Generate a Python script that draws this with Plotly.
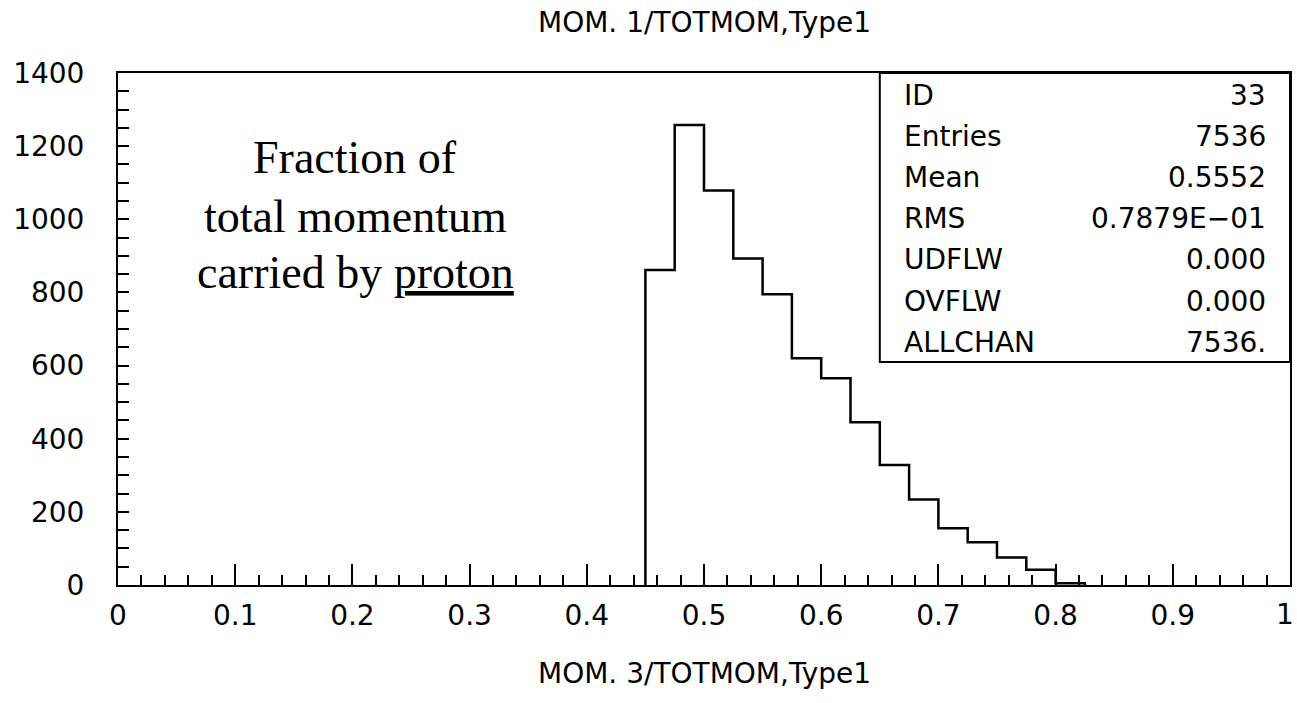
import plotly.graph_objects as go

# ---------------- data ----------------
bin_edges = [0.45, 0.475, 0.5, 0.525, 0.55, 0.575, 0.6, 0.625, 0.65, 0.675,
             0.7, 0.725, 0.75, 0.775, 0.8, 0.825]
counts = [861, 1258, 1079, 893, 795, 620, 565, 445, 328, 234, 155, 117, 75, 42, 5]

x_ticks = [0, 0.1, 0.2, 0.3, 0.4, 0.5, 0.6, 0.7, 0.8, 0.9, 1]
x_labels = ["0", "0.1", "0.2", "0.3", "0.4", "0.5", "0.6", "0.7", "0.8", "0.9", "1"]
y_ticks = [0, 200, 400, 600, 800, 1000, 1200, 1400]
y_labels = ["0", "200", "400", "600", "800", "1000", "1200", "1400"]

stat_names = ["ID", "Entries", "Mean", "RMS", "UDFLW", "OVFLW", "ALLCHAN"]
stat_values = ["33", "7536", "0.5552", "0.7879E\u221201", "0.000", "0.000", "7536."]

title_top = "MOM. 1/TOTMOM,Type1"
title_bottom = "MOM. 3/TOTMOM,Type1"
note_lines = ["Fraction of", "total momentum", "carried by <u>proton</u>"]

# ---------------- layout geometry ----------------
W, H = 1297, 703
L, R, T, B = 118, 7, 73, 118
PW, PH = W - L - R, H - T - B
YMAX = 1400


def ydata(py):
    return (T + PH - py) / PH * YMAX


def xdata(px):
    return (px - L) / PW


def ypaper(py):
    return (T + PH - py) / PH


FONT = "DejaVu Sans"
FS = 28

fig = go.Figure()
fig.add_trace(go.Scatter(
    x=[bin_edges[0]] + bin_edges,
    y=[0] + counts + [0],
    mode="lines",
    line=dict(shape="hv", color="black", width=2.5),
    hoverinfo="skip",
    showlegend=False,
))

# statistics box
fig.add_shape(type="rect", xref="x", yref="y",
              x0=bin_edges[8], x1=1, y0=ydata(362), y1=YMAX,
              line=dict(color="black", width=2), fillcolor="white", layer="above")

annotations = []
for i, (n, v) in enumerate(zip(stat_names, stat_values)):
    py = 95 + i * 41.2
    annotations.append(dict(x=xdata(902), y=ydata(py), xref="x", yref="y", text=n,
                            showarrow=False, xanchor="left", yanchor="middle",
                            font=dict(family=FONT, size=FS, color="black")))
    annotations.append(dict(x=xdata(1268), y=ydata(py), xref="x", yref="y", text=v,
                            showarrow=False, xanchor="right", yanchor="middle",
                            font=dict(family=FONT, size=FS, color="black")))

for line, py in zip(note_lines, [157, 216, 272]):
    annotations.append(dict(x=xdata(355), y=ydata(py), xref="x", yref="y", text=line,
                            showarrow=False, xanchor="center", yanchor="middle",
                            font=dict(family="Liberation Serif", size=46, color="black")))

annotations.append(dict(x=0.5, y=ypaper(22), xref="paper", yref="paper",
                        text=title_top, showarrow=False, xanchor="center", yanchor="middle",
                        font=dict(family=FONT, size=FS, color="black")))
annotations.append(dict(x=0.5, y=ypaper(673), xref="paper", yref="paper",
                        text=title_bottom, showarrow=False, xanchor="center", yanchor="middle",
                        font=dict(family=FONT, size=FS, color="black")))

# last x tick label placed so it stays inside the page edge
annotations.append(dict(x=xdata(1296), y=ypaper(614), xref="paper", yref="paper",
                        text=x_labels[-1], showarrow=False, xanchor="right", yanchor="middle",
                        font=dict(family=FONT, size=FS, color="black")))

fig.update_layout(
    width=W, height=H,
    margin=dict(l=L, r=R, t=T, b=B),
    paper_bgcolor="white", plot_bgcolor="white",
    font=dict(family=FONT, size=FS, color="black"),
    annotations=annotations,
    xaxis=dict(range=[0, 1], showline=True, linecolor="black", linewidth=2, mirror=True,
               ticks="inside", ticklen=21, tickwidth=2, tickcolor="black",
               tickvals=x_ticks, ticktext=x_labels[:-1] + [""],
               showgrid=False, zeroline=False,
               minor=dict(ticks="inside", ticklen=10, tickwidth=2, tickcolor="black",
                          dtick=0.02, tick0=0, showgrid=False),
               tickfont=dict(family=FONT, size=FS, color="black"),
               ticklabelstandoff=4, automargin=False, fixedrange=True),
    yaxis=dict(range=[0, YMAX], showline=True, linecolor="black", linewidth=2, mirror=True,
               ticks="inside", ticklen=11, tickwidth=2, tickcolor="black",
               tickvals=y_ticks, ticktext=y_labels, showgrid=False, zeroline=False,
               minor=dict(ticks="inside", ticklen=11, tickwidth=2, tickcolor="black",
                          dtick=50, tick0=0, showgrid=False),
               tickfont=dict(family=FONT, size=FS, color="black"),
               ticklabelstandoff=26, automargin=False, fixedrange=True),
)

fig.write_html("out.html", config={"displayModeBar": False})
